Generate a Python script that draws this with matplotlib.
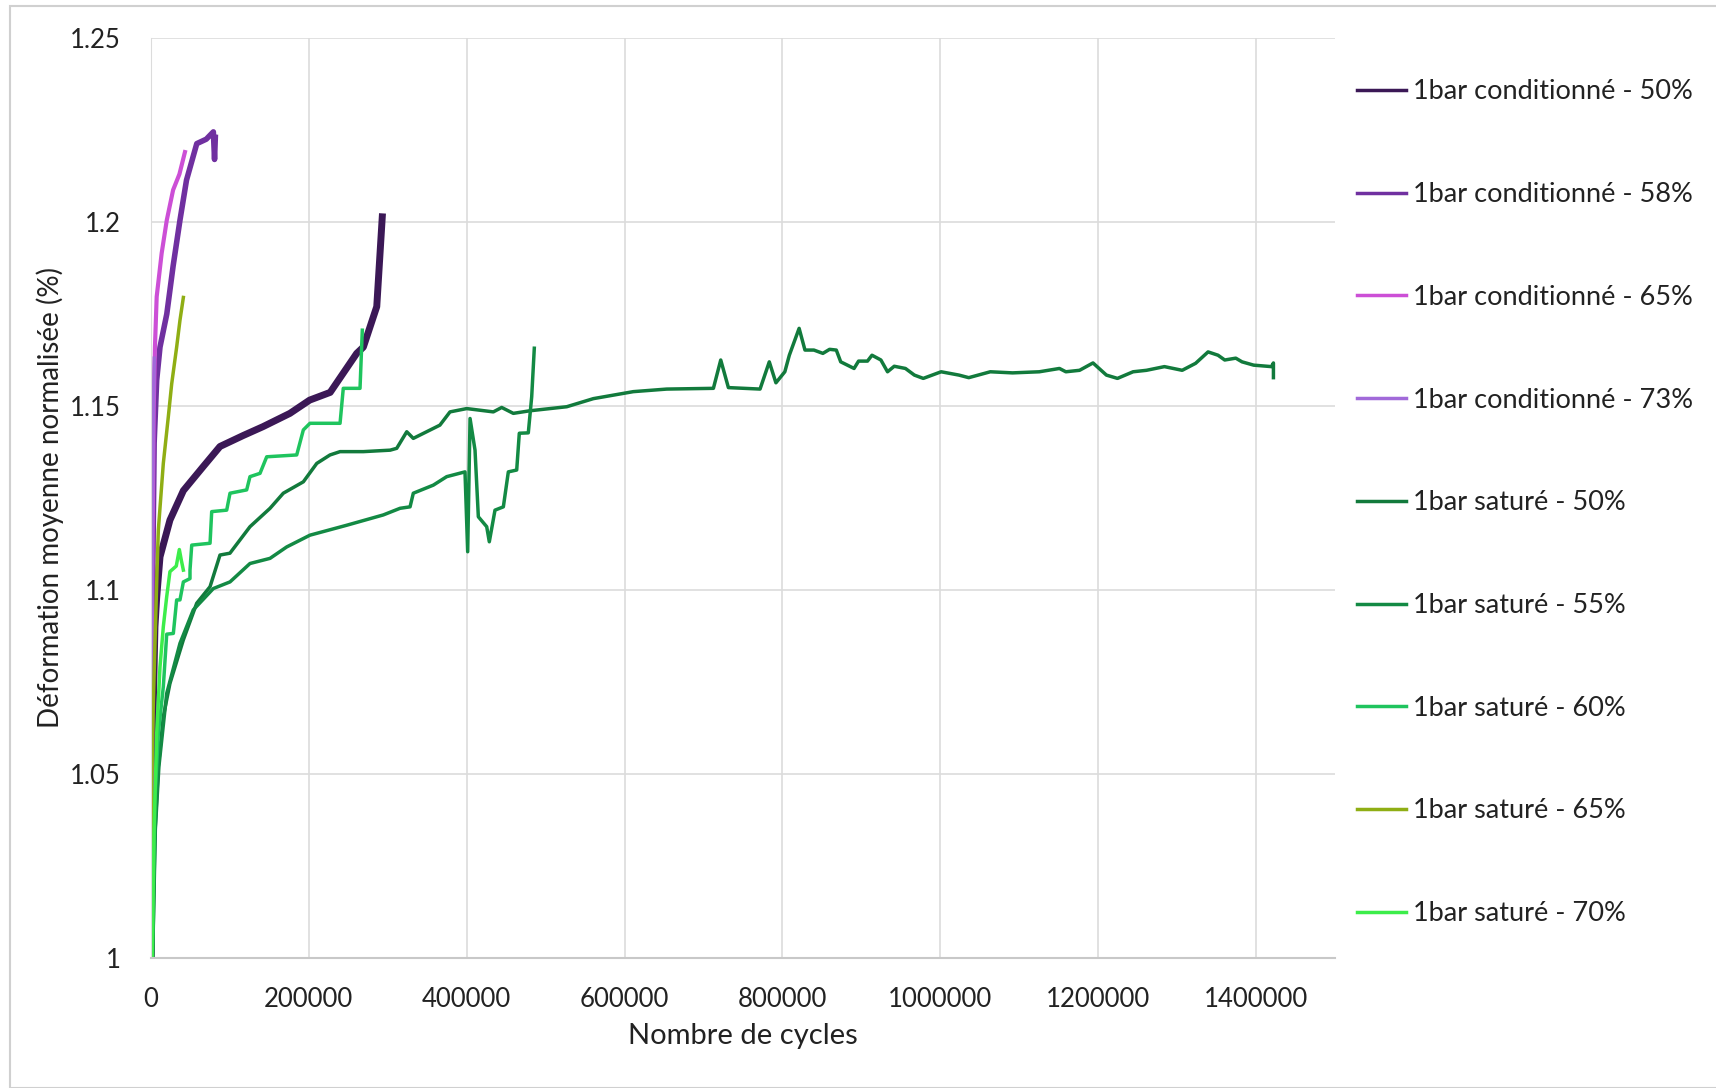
import matplotlib
matplotlib.use("Agg")
import matplotlib.pyplot as plt
from matplotlib.patches import Rectangle

plt.rcParams['font.family'] = ['Lato', 'DejaVu Sans']

# ---- data (cycles, normalised mean strain) ----
c50_x = [0, 2000, 5000, 7200, 11400, 24000, 41000, 66000, 87400, 117000, 142000,
         176000, 201000, 227000, 260600, 269000, 286000, 293000]
c50_y = [1.0, 1.06, 1.09, 1.098, 1.109, 1.119, 1.127, 1.1335, 1.139, 1.142, 1.1444,
         1.148, 1.1516, 1.1537, 1.1643, 1.166, 1.177, 1.2014]

c58_x = [0, 1500, 4000, 7200, 11400, 20000, 28000, 36700, 45000, 58000, 70000, 79000, 80500, 81500]
c58_y = [1.0, 1.09, 1.14, 1.157, 1.166, 1.175, 1.188, 1.2005, 1.2114, 1.2213, 1.2225, 1.2245, 1.217, 1.223]

c65_x = [0, 1500, 3500, 5000, 7200, 13500, 20000, 28000, 36000, 43000]
c65_y = [1.0, 1.10, 1.15, 1.166, 1.1797, 1.1915, 1.2005, 1.2087, 1.213, 1.219]

c73_x = [0, 800, 1800, 3000, 4200]
c73_y = [1.0, 1.07, 1.12, 1.15, 1.163]

s50_x = [0, 2100, 5000, 9300, 15600, 24000, 40900, 57900, 74800, 87400, 100000, 125400,
         150800, 167600, 193000, 210000, 226800, 239500, 269000, 303000, 311300, 324000,
         332300, 366000, 378800, 400000, 433700, 444300, 459000, 480000, 526700, 560400,
         611000, 653400, 712500, 721800, 731500, 771600, 783300, 791700, 803000, 808700,
         821100, 828500, 839800, 851200, 859700, 868200, 873800, 882300, 890700, 896400,
         907700, 913400, 924700, 933100, 941600, 955800, 967100, 978400, 1001000, 1023600,
         1036000, 1063300, 1091500, 1125400, 1150900, 1159000, 1176400, 1193400, 1210400,
         1224400, 1244200, 1261200, 1283900, 1306400, 1323400, 1339200, 1351800, 1360300,
         1374300, 1382200, 1397000, 1419500, 1422000, 1422000]
s50_y = [1.0, 1.0, 1.034, 1.052, 1.0656, 1.0746, 1.0864, 1.0964, 1.1009, 1.1095, 1.11, 1.1172,
         1.1222, 1.1263, 1.1294, 1.1344, 1.1367, 1.1376, 1.1376, 1.138, 1.1385, 1.143,
         1.1412, 1.1448, 1.1484, 1.1493, 1.1484, 1.1496, 1.148, 1.1487, 1.1498, 1.152,
         1.1539, 1.1546, 1.1548, 1.1625, 1.155, 1.1546, 1.162, 1.1563, 1.1593, 1.1638,
         1.1711, 1.1652, 1.1652, 1.1643, 1.1654, 1.1652, 1.162, 1.1611, 1.1602, 1.1622,
         1.1622, 1.1638, 1.1625, 1.1593, 1.1608, 1.1602, 1.1584, 1.1575, 1.1593, 1.1584,
         1.1577, 1.1593, 1.159, 1.1593, 1.1602, 1.1593, 1.1597, 1.1617, 1.1584,
         1.1575, 1.1593, 1.1597, 1.1607, 1.1597, 1.1616, 1.1647, 1.1638, 1.1625,
         1.163, 1.162, 1.1611, 1.1607, 1.1617, 1.1577]

s55_x = [0, 2100, 5500, 10000, 19900, 36700, 53600, 79000, 100100, 125400, 150800, 171900,
         201400, 248000, 294300, 315500, 328200, 332300, 357700, 374600, 397800, 401200,
         404200, 410500, 414700, 425300, 428600, 435800, 446400, 452700, 463300, 466600,
         478000, 482300, 485600]
s55_y = [1.0, 1.0, 1.035, 1.052, 1.0719, 1.0855, 1.0946, 1.1004, 1.1022, 1.1072, 1.1086, 1.1117,
         1.1149, 1.1176, 1.1204, 1.1222, 1.1226, 1.1263, 1.1285, 1.1308, 1.1321, 1.1104,
         1.1466, 1.138, 1.1199, 1.1172, 1.1131, 1.1217, 1.1226, 1.1321, 1.1326, 1.1426,
         1.1427, 1.1525, 1.1657]

s60_x = [0, 1500, 5000, 9300, 15600, 19900, 28300, 32500, 36700, 41000, 49400, 49400, 51600,
         74800, 76900, 95900, 100100, 121200, 125400, 138100, 146600, 184600, 193000,
         201400, 239500, 243600, 264800, 267700]
s60_y = [1.0, 1.0, 1.043, 1.061, 1.0737, 1.088, 1.0882, 1.0973, 1.0973, 1.1022, 1.1031, 1.1054, 1.1122,
         1.1127, 1.1213, 1.1217, 1.1263, 1.1272, 1.1308, 1.1317, 1.1362, 1.1367, 1.1435,
         1.1453, 1.1453, 1.1548, 1.1548, 1.1706]

s65_x = [0, 800, 3000, 7600, 9300, 15600, 21900, 26200, 32500, 36700, 41000]
s65_y = [1.0, 1.047, 1.070, 1.105, 1.1163, 1.1344, 1.147, 1.156, 1.166, 1.1733, 1.1795]

s70_x = [0, 1500, 3800, 7200, 11400, 15600, 19900, 24000, 32000, 35900, 38500, 41000]
s70_y = [1.0, 1.0, 1.034, 1.061, 1.0791, 1.09, 1.0982, 1.105, 1.1065, 1.111, 1.108, 1.1054]

series = [
    ("1bar conditionné - 50%", c50_x, c50_y, "#3b1856", 5.0),
    ("1bar conditionné - 58%", c58_x, c58_y, "#7030a0", 4.0),
    ("1bar conditionné - 65%", c65_x, c65_y, "#cc4fd6", 3.0),
    ("1bar conditionné - 73%", c73_x, c73_y, "#a16ad9", 2.5),
    ("1bar saturé - 50%", s50_x, s50_y, "#127a3c", 2.5),
    ("1bar saturé - 55%", s55_x, s55_y, "#138a44", 2.5),
    ("1bar saturé - 60%", s60_x, s60_y, "#1fc45e", 2.5),
    ("1bar saturé - 65%", s65_x, s65_y, "#8fae14", 2.5),
    ("1bar saturé - 70%", s70_x, s70_y, "#3ced4a", 2.5),
]

fig = plt.figure(figsize=(17.16, 10.88), dpi=100)
ax = fig.add_axes([151 / 1716, 1 - 958 / 1088, (1335 - 151) / 1716, (958 - 38) / 1088])

for name, xs, ys, col, lw in series:
    ax.plot(xs, ys, color=col, lw=lw, label=name, solid_joinstyle='round')

ax.set_xlim(0, 1500000)
ax.set_ylim(1.0, 1.25)
ax.set_xticks([0, 200000, 400000, 600000, 800000, 1000000, 1200000, 1400000])
ax.set_xticklabels(["0", "200000", "400000", "600000", "800000", "1000000", "1200000", "1400000"])
ax.set_yticks([1.0, 1.05, 1.1, 1.15, 1.2, 1.25])
ax.set_yticklabels(["1", "1.05", "1.1", "1.15", "1.2", "1.25"])
ax.tick_params(length=0, labelsize=18.5, colors="#222222")
ax.tick_params(axis='x', pad=21)
ax.tick_params(axis='y', pad=22)
ax.grid(True, color="#dcdcdc", lw=1.2)
ax.set_axisbelow(True)
for s in ["top", "right"]:
    ax.spines[s].set_visible(False)
ax.spines["left"].set_color("#dcdcdc")
ax.spines["bottom"].set_color("#c8c8c8")
ax.spines["bottom"].set_linewidth(1.5)

ax.set_xlabel("Nombre de cycles", fontsize=21, color="#222222", labelpad=8)
ax.set_ylabel("Déformation moyenne normalisée (%)", fontsize=20, color="#222222", labelpad=4)

leg_handles = [plt.Line2D([], [], color=c, lw=2.5) for _, _, _, c, _ in series]
fig.legend(leg_handles, [s[0] for s in series], loc="upper left",
           bbox_to_anchor=(1333 / 1716, 1 - 55 / 1088), frameon=False,
           fontsize=19.5, handlelength=1.8, handletextpad=0.25, labelspacing=2.87,
           labelcolor="#222222")

fig.patches.append(Rectangle((10 / 1716, 0), 1.0, 1 - 6 / 1088, transform=fig.transFigure,
                             fill=False, edgecolor="#d0d0d0", lw=1.5))

fig.savefig("out.png", dpi=100)
